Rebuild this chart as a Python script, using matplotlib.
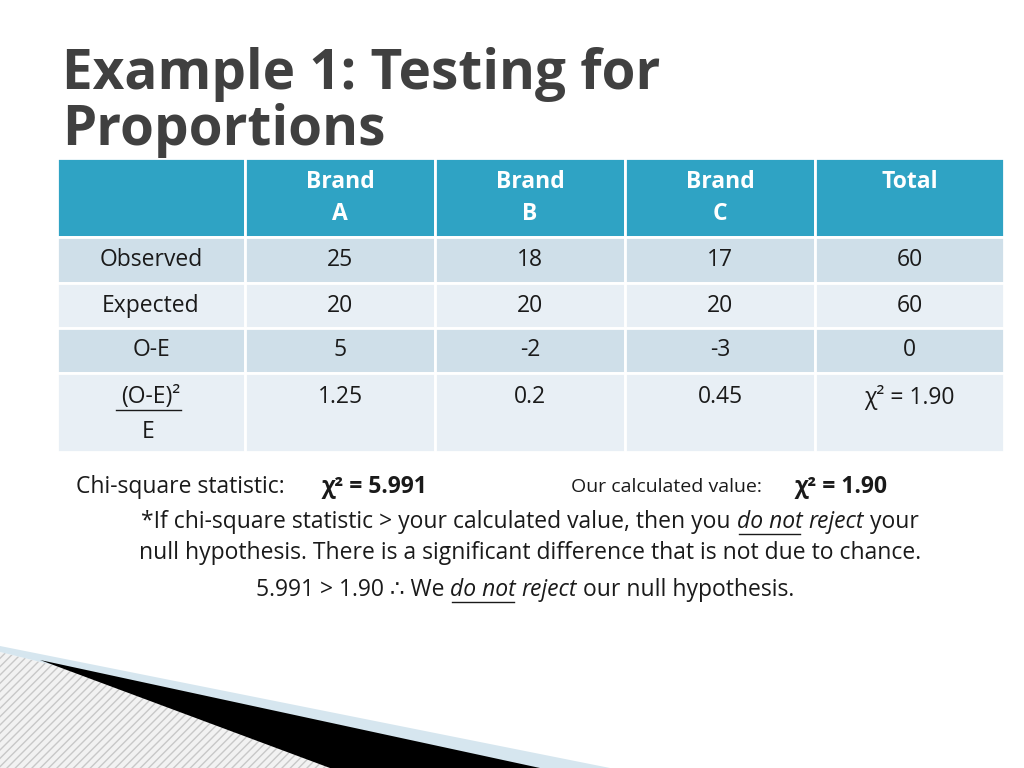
import matplotlib.pyplot as plt
from matplotlib.patches import Rectangle, Polygon

plt.rcParams['font.family'] = ['Open Sans', 'DejaVu Sans']

headers = ['', 'Brand\nA', 'Brand\nB', 'Brand\nC', 'Total']
row_labels = ['Observed', 'Expected', 'O-E', '']
observed = ['25', '18', '17', '60']
expected = ['20', '20', '20', '60']
o_minus_e = ['5', '-2', '-3', '0']
contrib = ['1.25', '0.2', '0.45', 'χ² = 1.90']

col_edges = [57, 245, 435, 625, 815, 1004]
row_edges = [158, 237, 283, 328, 373, 452]
row_colors = ['#2fa3c4', '#cfdfe9', '#e8eff5', '#cfdfe9', '#e8eff5']
TXT = '#1a1a1a'
FS = 16.5

fig = plt.figure(figsize=(10.24, 7.68), dpi=100)
ax = fig.add_axes([0, 0, 1, 1])
ax.set_xlim(0, 1024)
ax.set_ylim(768, 0)
ax.axis('off')
renderer = fig.canvas.get_renderer()


def text_run(x, y, parts, fs, align='left'):
    # parts: list of (string, style, underline)
    inv = ax.transData.inverted()
    widths = []
    for s, style, _ in parts:
        t = ax.text(0, 0, s, fontsize=fs, fontstyle=style)
        bb = t.get_window_extent(renderer)
        widths.append(bb.width)
        t.remove()
    total = sum(widths)
    if align == 'center':
        x -= total / 2
    for (s, style, ul), w in zip(parts, widths):
        ax.text(x, y, s, fontsize=fs, fontstyle=style, color=TXT, va='center')
        if ul:
            ax.plot([x + 2, x + w - 2], [y + 12, y + 12], color=TXT, lw=1)
        x += w


ax.text(62, 75, 'Example 1: Testing for', fontsize=39.5, fontweight='bold',
        color='#404040', va='center')
ax.text(62, 130, 'Proportions', fontsize=39.5, fontweight='bold',
        color='#404040', va='center')

for r in range(5):
    for c in range(5):
        x0, x1 = col_edges[c], col_edges[c + 1]
        y0, y1 = row_edges[r], row_edges[r + 1]
        ax.add_patch(Rectangle((x0, y0), x1 - x0, y1 - y0, facecolor=row_colors[r],
                               edgecolor='white', lw=2))

for c, h in enumerate(headers):
    xc = (col_edges[c] + col_edges[c + 1]) / 2
    ax.text(xc, 170, h, fontsize=FS, fontweight='bold', color='white',
            ha='center', va='top', linespacing=1.45)

body = [observed, expected, o_minus_e, contrib]
for r, vals in enumerate(body):
    y0 = row_edges[r + 1]
    yc = (y0 + row_edges[r + 2]) / 2 if r < 3 else y0 + 24
    ax.text((col_edges[0] + col_edges[1]) / 2, yc, row_labels[r], fontsize=FS,
            color=TXT, ha='center', va='center')
    for c, v in enumerate(vals):
        xc = (col_edges[c + 1] + col_edges[c + 2]) / 2
        ax.text(xc, yc, v, fontsize=FS, color=TXT, ha='center', va='center')

xl = (col_edges[0] + col_edges[1]) / 2
ax.text(xl, 397, '(O-E)²', fontsize=FS, color=TXT, ha='center', va='center')
ax.plot([xl - 35, xl + 30], [410, 410], color=TXT, lw=1)
ax.text(xl - 3, 432, 'E', fontsize=FS, color=TXT, ha='center', va='center')

ax.text(76, 487, 'Chi-square statistic:', fontsize=FS, color=TXT, va='center')
ax.text(322, 487, 'χ² = 5.991', fontsize=FS, fontweight='bold', color=TXT, va='center')
ax.text(571, 487, 'Our calculated value:', fontsize=14, color=TXT, va='center')
ax.text(795, 487, 'χ² = 1.90', fontsize=FS, fontweight='bold', color=TXT, va='center')

text_run(530, 522, [('*If chi-square statistic > your calculated value, then you ', 'normal', False),
                    ('do not', 'italic', True), (' ', 'normal', False),
                    ('reject', 'italic', False), (' your', 'normal', False)], FS, 'center')
ax.text(530, 553, 'null hypothesis. There is a significant difference that is not due to chance.',
        fontsize=FS, color=TXT, ha='center', va='center')
text_run(525, 590, [('5.991 > 1.90 ∴ We ', 'normal', False), ('do not', 'italic', True),
                    (' ', 'normal', False), ('reject', 'italic', False),
                    (' our null hypothesis.', 'normal', False)], FS, 'center')

ax.add_patch(Polygon([(0, 652), (0, 768), (470, 768)], closed=True,
                     facecolor='#f2f2f2', edgecolor='#c8c8c8', hatch='////', lw=0))
ax.add_patch(Polygon([(0, 646), (610, 768), (470, 768), (0, 652)], closed=True,
                     facecolor='#d6e6ef', edgecolor='none'))
ax.add_patch(Polygon([(40, 660), (540, 768), (330, 768)], closed=True,
                     facecolor='black', edgecolor='none'))

fig.savefig('out.png', dpi=100)
